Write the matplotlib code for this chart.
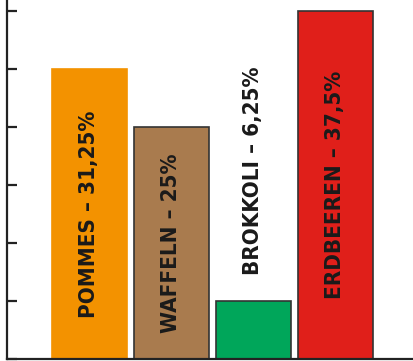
import matplotlib
matplotlib.use("Agg")
import matplotlib.pyplot as plt
from matplotlib import font_manager

categories = ["POMMES", "WAFFELN", "BROKKOLI", "ERDBEEREN"]
values = [5, 4, 1, 6]
percent_labels = ["31,25%", "25%", "6,25%", "37,5%"]
colors = ["#F39200", "#A97B4E", "#00A65A", "#E01F1A"]
edges = ["#F39200", "#333333", "#333333", "#333333"]

fig = plt.figure(figsize=(4.14, 3.61), dpi=100)
ax = fig.add_axes([7 / 414, 2 / 361, 407 / 414, 359 / 361])

x = list(range(len(categories)))
ax.bar(x, values, width=0.915, color=colors, edgecolor=edges, linewidth=1.2, zorder=2)

ax.set_xlim(-1.0, 3.96)
ax.set_ylim(0, 6 * 359 / 348)
ax.set_yticks(range(0, 7))
ax.set_yticklabels([])
ax.set_xticks([])
ax.tick_params(axis="y", direction="in", length=7.5, width=1.6, color="#222222")
for s in ["top", "right"]:
    ax.spines[s].set_visible(False)
for s in ["left", "bottom"]:
    ax.spines[s].set_linewidth(1.6)
    ax.spines[s].set_color("#222222")

names = {f.name for f in font_manager.fontManager.ttflist}
fam = ["Liberation Sans Narrow", "DejaVu Sans"] if "Liberation Sans Narrow" in names else ["DejaVu Sans"]
font = dict(family=fam, weight="bold", stretch="condensed",
            fontsize=16, color="#1a1a1a", rotation=90)
for xi, v, c, p in zip(x, values, categories, percent_labels):
    label = f"{c} – {p}"
    if v >= 2:
        ax.text(xi, v / 2, label, ha="center", va="center", **font)
    else:
        ax.text(xi, v + 0.45, label, ha="center", va="bottom", **font)

fig.savefig("out.png", dpi=100)
